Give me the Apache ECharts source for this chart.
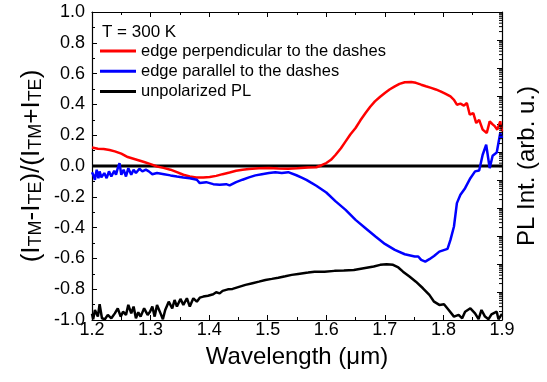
<!DOCTYPE html>
<html><head><meta charset="utf-8">
<script src="https://cdn.jsdelivr.net/npm/echarts@6/dist/echarts.min.js"></script>
<style>html,body{margin:0;padding:0;background:#fff}#c{width:547px;height:382px}</style>
</head><body><div id="c"></div>
<script>
// ---- data ----
const redX = [1.200,1.202,1.210,1.220,1.230,1.239,1.250,1.261,1.275,1.289,1.300,1.311,1.322,1.334,1.345,1.356,1.367,1.378,1.390,1.401,1.412,1.423,1.435,1.446,1.457,1.468,1.485,1.502,1.518,1.535,1.550,1.569,1.583,1.592,1.600,1.608,1.616,1.625,1.633,1.641,1.650,1.658,1.667,1.675,1.683,1.692,1.700,1.708,1.717,1.725,1.734,1.745,1.753,1.762,1.770,1.779,1.787,1.795,1.803,1.812,1.818,1.823,1.829,1.835,1.840,1.845,1.851,1.856,1.861,1.867,1.874,1.879,1.884,1.888,1.892,1.897,1.900];
const redY = [0.120,0.117,0.112,0.110,0.104,0.095,0.080,0.058,0.042,0.026,0.012,-0.003,-0.012,-0.024,-0.040,-0.057,-0.068,-0.074,-0.075,-0.072,-0.064,-0.053,-0.042,-0.031,-0.024,-0.020,-0.015,-0.013,-0.016,-0.018,-0.015,-0.010,-0.008,0.005,0.019,0.040,0.073,0.115,0.160,0.205,0.247,0.295,0.344,0.385,0.420,0.450,0.474,0.497,0.517,0.533,0.544,0.546,0.540,0.528,0.518,0.507,0.497,0.485,0.470,0.452,0.430,0.398,0.405,0.392,0.409,0.333,0.344,0.279,0.300,0.236,0.214,0.290,0.270,0.257,0.236,0.290,0.225];

const blueX = [1.200,1.202,1.205,1.208,1.211,1.213,1.216,1.221,1.225,1.229,1.233,1.238,1.241,1.244,1.247,1.250,1.254,1.258,1.262,1.267,1.271,1.275,1.281,1.286,1.292,1.297,1.303,1.311,1.323,1.334,1.345,1.356,1.367,1.379,1.384,1.395,1.407,1.418,1.429,1.435,1.446,1.457,1.468,1.479,1.490,1.502,1.513,1.524,1.535,1.549,1.558,1.566,1.574,1.583,1.600,1.616,1.633,1.650,1.667,1.684,1.700,1.717,1.734,1.751,1.757,1.762,1.769,1.776,1.784,1.793,1.807,1.812,1.818,1.823,1.829,1.837,1.846,1.854,1.861,1.867,1.873,1.879,1.884,1.891,1.897,1.900];
const blueY = [-0.040,-0.057,-0.089,-0.024,-0.079,-0.035,-0.074,-0.046,-0.079,-0.035,-0.068,-0.031,-0.057,-0.014,0.019,-0.057,-0.024,-0.068,-0.014,-0.057,-0.024,-0.046,-0.018,-0.035,-0.024,-0.035,-0.053,-0.046,-0.053,-0.061,-0.068,-0.074,-0.079,-0.089,-0.111,-0.105,-0.118,-0.122,-0.118,-0.126,-0.105,-0.089,-0.074,-0.061,-0.053,-0.046,-0.040,-0.046,-0.040,-0.060,-0.075,-0.090,-0.108,-0.128,-0.172,-0.230,-0.285,-0.350,-0.404,-0.458,-0.506,-0.545,-0.573,-0.588,-0.588,-0.610,-0.621,-0.605,-0.584,-0.556,-0.538,-0.480,-0.393,-0.241,-0.187,-0.144,-0.079,-0.035,-0.029,0.073,0.138,-0.014,0.067,0.088,0.214,0.182];

const blackX = [1.200,1.202,1.205,1.210,1.213,1.217,1.222,1.227,1.233,1.239,1.244,1.249,1.253,1.258,1.262,1.267,1.271,1.275,1.279,1.283,1.289,1.295,1.299,1.303,1.307,1.311,1.317,1.321,1.325,1.331,1.337,1.341,1.345,1.351,1.356,1.362,1.367,1.373,1.379,1.384,1.390,1.398,1.407,1.412,1.418,1.423,1.432,1.440,1.451,1.462,1.474,1.485,1.496,1.507,1.518,1.530,1.541,1.552,1.569,1.580,1.597,1.614,1.630,1.647,1.664,1.681,1.692,1.703,1.714,1.723,1.731,1.742,1.753,1.765,1.776,1.784,1.793,1.801,1.809,1.818,1.826,1.832,1.837,1.846,1.854,1.860,1.865,1.871,1.877,1.882,1.891,1.894,1.900];
const blackY = [-0.960,-0.995,-0.935,-0.978,-0.898,-0.989,-0.995,-0.967,-0.989,-0.957,-0.924,-0.978,-0.946,-0.967,-0.902,-0.957,-0.913,-0.989,-0.950,-0.978,-0.924,-0.967,-0.946,-0.913,-0.978,-0.902,-0.957,-0.995,-0.935,-0.881,-0.924,-0.870,-0.913,-0.863,-0.902,-0.859,-0.913,-0.859,-0.881,-0.855,-0.848,-0.842,-0.833,-0.820,-0.827,-0.811,-0.801,-0.798,-0.785,-0.772,-0.761,-0.751,-0.740,-0.733,-0.725,-0.716,-0.707,-0.701,-0.692,-0.686,-0.686,-0.681,-0.679,-0.675,-0.664,-0.653,-0.642,-0.638,-0.642,-0.659,-0.686,-0.718,-0.751,-0.794,-0.837,-0.881,-0.902,-0.898,-0.935,-0.978,-0.967,-0.989,-0.946,-0.924,-0.957,-0.995,-0.935,-0.978,-0.995,-0.963,-0.946,-0.995,-0.960];

const zeroX = [1.2, 1.9];
const zeroY = [0, 0];

const seriesNames = ['edge perpendicular to the dashes', 'edge parallel to the dashes', 'unpolarized PL'];
const seriesColors = ['#ff0000', '#0000ff', '#000000'];
const annotation = 'T = 300 K';
const xName = 'Wavelength (\u03bcm)';
const rightName = 'PL Int. (arb. u.)';
const logDecades = 11; // right (log) axis spans 11 decades, no labels

// ---- build ----
const zip = (xs, ys) => xs.map((x, i) => [x, ys[i]]);
const minorLogTicks = [];
for (let n = 0; n < logDecades; n++) for (let k = 2; k <= 9; k++) minorLogTicks.push([1.9, n + Math.log10(k)]);

const FONT = 'Liberation Sans, Arial, sans-serif';
const tickStyle = {show: true, inside: true, length: 5, lineStyle: {color: '#000', width: 1}};
const minorStyle = {show: true, splitNumber: 2, length: 3, lineStyle: {color: '#000', width: 1}};
const axisLine = {show: true, onZero: false, lineStyle: {color: '#000', width: 1.2}};

const chart = echarts.init(document.getElementById('c'), null, {renderer: 'canvas'});
chart.setOption({
  animation: false,
  backgroundColor: '#fff',
  grid: {left: 92, right: 38, top: 12, bottom: 62},
  title: {text: annotation, left: 97, top: 19, textStyle: {fontFamily: FONT, fontSize: 17, fontWeight: 'normal', color: '#000'}},
  legend: {
    data: seriesNames, orient: 'vertical', left: 95, top: 36, icon: 'rect',
    itemWidth: 36, itemHeight: 3, itemGap: 0,
    textStyle: {fontFamily: FONT, fontSize: 16.5, lineHeight: 20.2, color: '#000'}
  },
  xAxis: [
    {type: 'value', min: 1.2, max: 1.9, interval: 0.1, position: 'bottom',
     axisLine, axisTick: tickStyle, minorTick: minorStyle, splitLine: {show: false},
     axisLabel: {margin: 1, fontFamily: FONT, fontSize: 18, color: '#000', formatter: v => v.toFixed(1)},
     name: xName, nameLocation: 'middle', nameGap: 25, nameMoveOverlap: false,
     nameTextStyle: {fontFamily: FONT, fontSize: 24, color: '#000'}},
    {type: 'value', min: 1.2, max: 1.9, interval: 0.1, position: 'top',
     axisLine, axisTick: tickStyle, minorTick: minorStyle, splitLine: {show: false}, axisLabel: {show: false}}
  ],
  yAxis: [
    {type: 'value', min: -1, max: 1, interval: 0.2, position: 'left',
     axisLine, axisTick: tickStyle, minorTick: minorStyle, splitLine: {show: false},
     axisLabel: {margin: 7, fontFamily: FONT, fontSize: 18, color: '#000', formatter: v => v.toFixed(1)},
     name: '{m|(I}{s|TM}{m|-I}{s|TE}{m|)/(I}{s|TM}{m|+I}{s|TE}{m|)}',
     nameLocation: 'middle', nameRotate: 90, nameGap: 47, nameMoveOverlap: false,
     nameTextStyle: {rich: {
       m: {fontFamily: FONT, fontSize: 26, color: '#000', lineHeight: 27},
       s: {fontFamily: FONT, fontSize: 18, color: '#000', lineHeight: 7, verticalAlign: 'bottom'}
     }}},
    {type: 'value', min: 0, max: logDecades, interval: 1, position: 'right',
     axisLine, axisTick: tickStyle, splitLine: {show: false}, axisLabel: {show: false},
     name: rightName, nameLocation: 'middle', nameRotate: 90, nameGap: 13, nameMoveOverlap: false,
     nameTextStyle: {fontFamily: FONT, fontSize: 24, color: '#000'}}
  ],
  series: [
    {type: 'line', data: zip(zeroX, zeroY), symbol: 'none', lineStyle: {color: '#000', width: 3}, z: 3, silent: true},
    {name: seriesNames[0], type: 'line', data: zip(redX, redY), symbol: 'none', color: seriesColors[0], lineStyle: {width: 2.5}, z: 4},
    {name: seriesNames[1], type: 'line', data: zip(blueX, blueY), symbol: 'none', color: seriesColors[1], lineStyle: {width: 2.5}, z: 4},
    {name: seriesNames[2], type: 'line', data: zip(blackX, blackY), symbol: 'none', color: seriesColors[2], lineStyle: {width: 2.5}, z: 4},
    {type: 'custom', xAxisIndex: 0, yAxisIndex: 1, silent: true, z: 5, data: minorLogTicks,
     renderItem: (params, api) => {
       const p = api.coord([api.value(0), api.value(1)]);
       return {type: 'line', shape: {x1: p[0] - 3, y1: p[1], x2: p[0], y2: p[1]}, style: {stroke: '#000', lineWidth: 1}};
     }}
  ]
});
</script></body></html>
